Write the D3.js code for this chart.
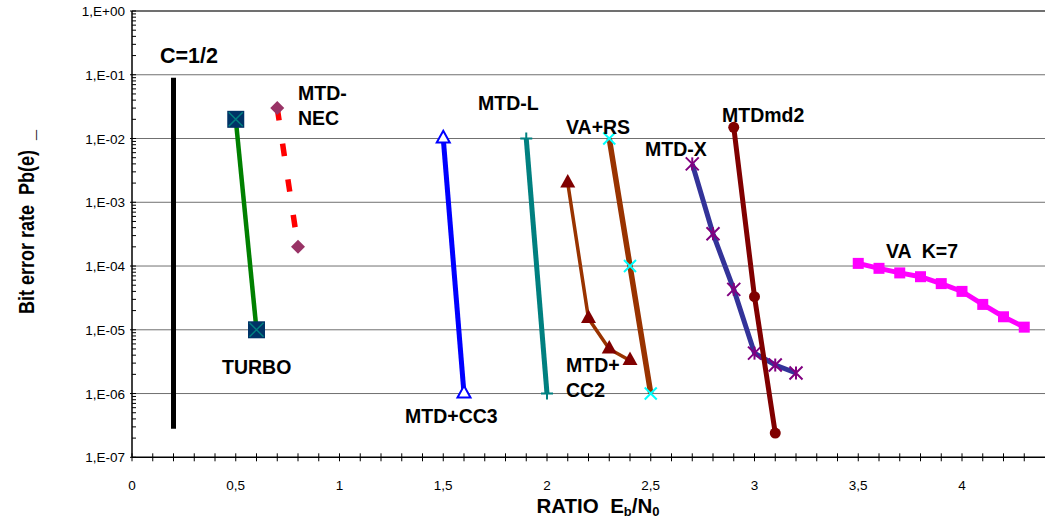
<!DOCTYPE html>
<html>
<head>
<meta charset="utf-8">
<script src="https://cdn.jsdelivr.net/npm/d3@7"></script>
<style>
  html, body { margin: 0; padding: 0; background: #fff; }
  svg { display: block; font-family: "Liberation Sans", Arial, sans-serif; }
  .pre { white-space: pre; }
</style>
</head>
<body>
<div id="chart"></div>
<script>
// values
const xTicks = [0, 0.5, 1, 1.5, 2, 2.5, 3, 3.5, 4]
const yTicks = [1e-7, 1e-6, 1e-5, 1e-4, 1e-3, 1e-2, 1e-1, 1]
const yTickLabels = ['1,E-07', '1,E-06', '1,E-05', '1,E-04', '1,E-03', '1,E-02', '1,E-01', '1,E+00']

const cX = [0.2, 0.2], cY = [9e-2, 2.8e-7]
const turboX = [0.5, 0.6], turboY = [2e-2, 1e-5]
const necX = [0.7, 0.8], necY = [3e-2, 2e-4]
const cc3X = [1.5, 1.6], cc3Y = [1e-2, 1e-6]
const mtdlX = [1.9, 2.0], mtdlY = [1e-2, 1e-6]
const cc2X = [2.1, 2.2, 2.3, 2.4], cc2Y = [2e-3, 1.5e-5, 5e-6, 3.3e-6]
const varsX = [2.3, 2.4, 2.5], varsY = [1e-2, 1e-4, 1e-6]
const mtdxX = [2.7, 2.8, 2.9, 3.0, 3.1, 3.2], mtdxY = [4e-3, 3.2e-4, 4.3e-5, 4.3e-6, 2.8e-6, 2.1e-6]
const md2X = [2.9, 3.0, 3.1], md2Y = [1.5e-2, 3.3e-5, 2.4e-7]
const vaX = [3.5, 3.6, 3.7, 3.8, 3.9, 4.0, 4.1, 4.2, 4.3]
const vaY = [1.1e-4, 9.2e-5, 7.8e-5, 6.8e-5, 5.3e-5, 4.0e-5, 2.5e-5, 1.6e-5, 1.1e-5]

const W = 1045, H = 522
const svg = d3.select('#chart').append('svg').attr('width', W).attr('height', H)

const x = d3.scaleLinear().domain([0, 4.4]).range([132, 1045])
const y = d3.scaleLog().domain([1e-7, 1]).range([457.3, 11])

// gridlines
svg.append('g').selectAll('line').data(yTicks.slice(1)).join('line')
  .attr('x1', x(0)).attr('x2', x(4.4))
  .attr('y1', d => y(d)).attr('y2', d => y(d))
  .attr('stroke', '#707070').attr('stroke-width', d => d === 1 ? 2 : 1)

// y axis
const minor = []
for (let e = -7; e < 0; e++) for (let m = 2; m <= 9; m++) minor.push(m * Math.pow(10, e))
const yAx = svg.append('g')
yAx.append('line').attr('x1', x(0)).attr('x2', x(0)).attr('y1', y(1)).attr('y2', y(1e-7))
  .attr('stroke', '#000').attr('stroke-width', 1.5)
yAx.selectAll('line.minor').data(minor).join('line').attr('class', 'minor')
  .attr('x1', x(0)).attr('x2', x(0) + 4).attr('y1', d => y(d)).attr('y2', d => y(d))
  .attr('stroke', '#000').attr('stroke-width', 1)
yAx.selectAll('line.major').data(yTicks).join('line').attr('class', 'major')
  .attr('x1', x(0) - 2).attr('x2', x(0) + 4).attr('y1', d => y(d)).attr('y2', d => y(d))
  .attr('stroke', '#000').attr('stroke-width', 1)
yAx.selectAll('text').data(yTicks).join('text')
  .attr('x', 125).attr('y', d => y(d) + 5)
  .attr('text-anchor', 'end').style('font-size', '13.5px')
  .text((d, i) => yTickLabels[i])

// x axis
const xMinor = d3.range(0, 44).map(i => i / 10)
const xAx = svg.append('g')
xAx.append('line').attr('x1', x(0)).attr('x2', x(4.4)).attr('y1', y(1e-7)).attr('y2', y(1e-7))
  .attr('stroke', '#000').attr('stroke-width', 1.5)
xAx.selectAll('line.t').data(xMinor).join('line').attr('class', 't')
  .attr('x1', d => x(d)).attr('x2', d => x(d)).attr('y1', y(1e-7) - 4).attr('y2', y(1e-7) + 4)
  .attr('stroke', '#000').attr('stroke-width', 1)
xAx.selectAll('text').data(xTicks).join('text')
  .attr('x', d => x(d)).attr('y', 490)
  .attr('text-anchor', 'middle').style('font-size', '13.5px')
  .text(d => String(d).replace('.', ','))

// markers
function square(s, fill) {
  return g => g.append('rect').attr('x', -s / 2).attr('y', -s / 2).attr('width', s).attr('height', s).attr('fill', fill)
}
function cross(s, color, w) {
  return g => g.append('path').attr('d', `M${-s/2},${-s/2}L${s/2},${s/2}M${-s/2},${s/2}L${s/2},${-s/2}`)
    .attr('stroke', color).attr('stroke-width', w).attr('fill', 'none')
}
function plus(s, color, w) {
  return g => g.append('path').attr('d', `M${-s/2},0H${s/2}M0,${-s/2}V${s/2}`)
    .attr('stroke', color).attr('stroke-width', w)
}
function triangle(s, fill, stroke, w) {
  const h = s * 0.9
  return g => g.append('path').attr('d', `M0,${-h*2/3}L${s/2},${h/3}L${-s/2},${h/3}Z`)
    .attr('fill', fill).attr('stroke', stroke || 'none').attr('stroke-width', w || 0)
}
function diamond(s, fill) {
  return g => g.append('path').attr('d', `M0,${-s/2}L${s/2},0L0,${s/2}L${-s/2},0Z`).attr('fill', fill)
}
function circle(r, fill) {
  return g => g.append('circle').attr('r', r).attr('fill', fill)
}
function asterisk(s, color, w) {
  return g => {
    cross(s, color, w)(g)
    g.append('path').attr('d', `M0,${-s/2}V${s/2}`).attr('stroke', color).attr('stroke-width', w)
  }
}

const line = d3.line().x(d => x(d[0])).y(d => y(d[1]))

function series(xs, ys, color, width, markers, dash) {
  const pts = xs.map((v, i) => [v, ys[i]])
  const g = svg.append('g')
  g.append('path').attr('d', line(pts)).attr('fill', 'none')
    .attr('stroke', color).attr('stroke-width', width)
    .attr('stroke-dasharray', dash || null)
  if (markers) {
    pts.forEach(p => {
      const m = g.append('g').attr('transform', `translate(${x(p[0])},${y(p[1])})`)
      markers.forEach(fn => fn(m))
    })
  }
}

series(cX, cY, '#000000', 5, null)
series(turboX, turboY, '#008000', 4.5, [square(17, '#003366'), cross(14, '#008080', 1.5)])
series(necX, necY, '#ff0000', 5.5, [diamond(14, '#993366')], '12.5,23.5')
series(cc3X, cc3Y, '#0000ff', 5, [triangle(13, '#ffffff', '#0000ff', 2)])
series(mtdlX, mtdlY, '#008080', 5, [plus(12, '#008080', 2)])
series(cc2X, cc2Y, '#993300', 3.5, [triangle(15, '#800000')])
series(varsX, varsY, '#993300', 5.5, [cross(12, '#00ffff', 2)])
series(mtdxX, mtdxY, '#333399', 5, [asterisk(13, '#800080', 2)])
series(md2X, md2Y, '#800000', 5, [circle(5.5, '#800000')])
series(vaX, vaY, '#ff00ff', 5, [square(11, '#ff00ff')])

// series labels
const labels = [
  { t: 'C=1/2', x: 160, y: 63, s: 21.5 },
  { t: 'MTD-', x: 298, y: 100, s: 19.5 },
  { t: 'NEC', x: 298, y: 125, s: 19.5 },
  { t: 'TURBO', x: 222, y: 374, s: 19.5 },
  { t: 'MTD-L', x: 478, y: 110, s: 19.5 },
  { t: 'VA+RS', x: 566, y: 134, s: 19.5 },
  { t: 'MTD-X', x: 645, y: 156, s: 19.5 },
  { t: 'MTDmd2', x: 722, y: 122, s: 19.5 },
  { t: 'VA  K=7', x: 886, y: 258, s: 19.5 },
  { t: 'MTD+', x: 566, y: 372, s: 19.5 },
  { t: 'CC2', x: 566, y: 397, s: 19.5 },
  { t: 'MTD+CC3', x: 405, y: 423, s: 19.5 },
]
svg.append('g').selectAll('text').data(labels).join('text')
  .attr('class', 'pre')
  .attr('x', d => d.x).attr('y', d => d.y)
  .style('font-size', d => d.s + 'px').style('font-weight', 'bold')
  .text(d => d.t)

// axis titles
const xt = svg.append('text').attr('class', 'pre')
  .attr('x', 598).attr('y', 513).attr('text-anchor', 'middle')
  .style('font-size', '20.5px').style('font-weight', 'bold')
xt.append('tspan').text('RATIO  E')
xt.append('tspan').attr('dy', 3).style('font-size', '13px').text('b')
xt.append('tspan').attr('dy', -3).text('/N')
xt.append('tspan').attr('dy', 3).style('font-size', '13px').text('0')

svg.append('text').attr('class', 'pre')
  .attr('transform', 'translate(34,222) rotate(-90) scale(1,1.2)')
  .attr('text-anchor', 'middle')
  .style('font-size', '18px').style('font-weight', 'bold')
  .text('Bit error rate  Pb(e)  _')
</script>
</body>
</html>
